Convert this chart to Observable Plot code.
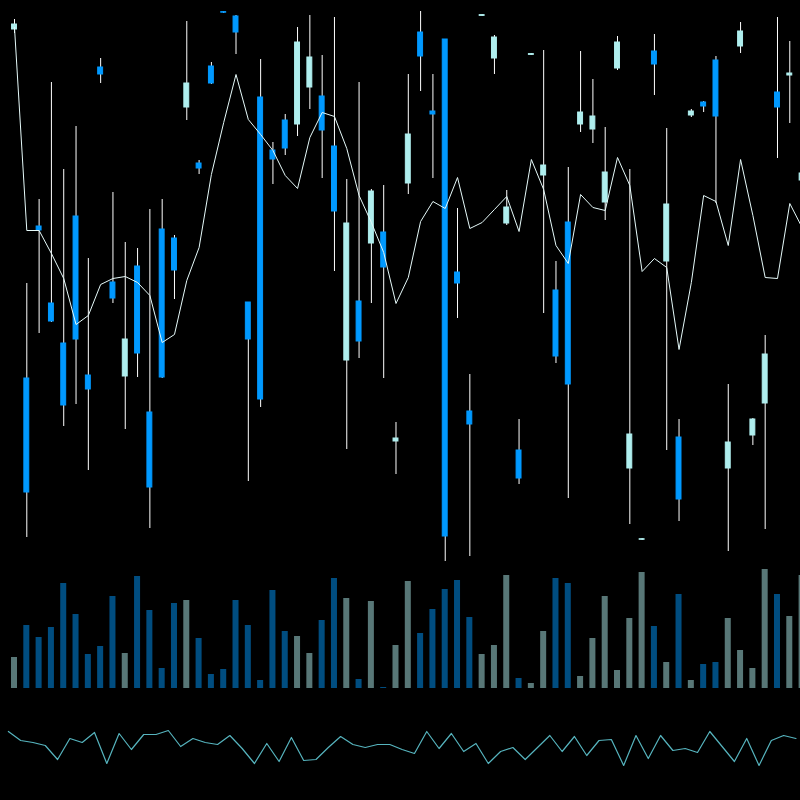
<!DOCTYPE html>
<html>
<head>
<meta charset="utf-8">
<script src="https://cdn.jsdelivr.net/npm/d3@7"></script>
<script src="https://cdn.jsdelivr.net/npm/@observablehq/plot@0.6"></script>
<style>
  html, body { margin: 0; padding: 0; background: #000; }
  #chart svg { display: block; background: #000; }
</style>
</head>
<body>
<div id="chart"></div>
<script>
// ---- data ----
const open = [
  571, 222, 374, 297, 257, 384, 225, 533, 318, 224,
  334, 188, 371, 362, 493, 437, 534, 588.4, 584, 298,
  503, 450, 480, 476, 513, 504, 454, 240, 299, 357,
  368, 159, 417, 568, 489, 561, 328, 189, 584.6, 542,
  377, 150, 545.6, 425, 310, 378, 476, 471, 398, 532,
  132, 60.7, 549, 339, 163, 485, 498, 540, 132, 554,
  165, 197, 508, 525, 420
];
const close = [
  576, 108, 370, 279, 195, 261, 211, 526, 302, 261,
  247, 113, 223, 330, 517, 432, 517, 587.8, 568, 261,
  201, 441, 452, 558, 543, 470, 389, 377, 259, 409,
  333, 162, 466, 544, 486, 64, 317, 176, 585.4, 563,
  393, 122, 546.4, 435, 244, 216, 488, 484, 428, 558,
  166, 61.3, 536, 396, 101, 489, 494, 484, 158, 569,
  181, 246, 493, 527, 427
];
const high = [
  581, 317, 401, 518, 431, 474, 342, 542, 408, 358,
  352, 391, 401, 365, 579, 440, 538, 589, 585, 298,
  541, 458, 486, 573, 585, 545, 583, 421, 518, 411,
  415, 178, 526, 589, 526, 561, 392, 226, 586, 565,
  410, 181, 547, 550, 339, 433, 549, 521, 473, 564,
  431, 62, 566, 472, 181, 491, 499, 544, 216, 578,
  182, 265, 583, 559, 435
];
const low = [
  567, 63, 267, 278, 174, 196, 130, 517, 297, 171,
  223, 72, 222, 301, 480, 426, 516, 587, 546, 119,
  193, 416, 445, 464, 491, 422, 329, 151, 242, 297,
  222, 126, 406, 509, 422, 39, 282, 44, 584, 526,
  375, 116, 545, 287, 237, 102, 468, 457, 380, 530,
  76, 60, 505, 150, 79, 483, 488, 397, 49, 547,
  155, 71, 442, 477, 415
];
const volume = [
  31, 63, 51, 61, 105, 74, 34, 42, 92, 35,
  112, 78, 20, 85, 88, 50, 14, 19, 88, 63,
  8, 98, 57, 52, 35, 68, 110, 90, 9, 87,
  1, 43, 107, 55, 79, 99, 108, 71, 34, 43,
  113, 10, 5, 57, 110, 105, 12, 50, 92, 18,
  70, 116, 62, 26, 94, 8, 24, 26, 70, 38,
  20, 119, 94, 72, 113
];
const ma = [
  573, 370, 370, 347, 322, 276, 285, 316, 322, 324,
  318, 305, 258, 266, 320, 353, 426, 478, 526, 481,
  466, 450, 425, 412, 463, 488, 484, 452, 405, 378,
  348, 297, 323, 379, 399, 392, 423, 372, 378, 391,
  404, 369, 441, 411, 355, 337, 406, 393, 390, 443,
  415, 329, 342, 333, 251, 318, 405, 399, 355, 441,
  385, 323, 322, 397, 373
];
const osc = [
  69, 60, 58, 55, 41, 62, 58, 68, 37, 67,
  51, 66, 66, 70, 54, 62, 58, 56, 65, 52,
  37, 57, 39, 63, 40, 41, 53, 64, 56, 53,
  56, 56, 51, 47, 69, 52, 67, 49, 57, 37,
  49, 53, 41, 53, 65, 49, 64, 45, 60, 61,
  35, 65, 42, 65, 50, 52, 48, 69, 54, 39,
  62, 35, 60, 65, 62
];

// ---- styles ----
const UP = "#afeeee";
const DOWN = "#0099ff";
const WICK = "#ffffff";
const MA_COLOR = "#e6fafa";
const OSC_COLOR = "#56b4be";

const rows = d3.range(open.length).map(i => ({
  i, open: open[i], close: close[i], high: high[i], low: low[i],
  vol: volume[i], ma: ma[i], osc: osc[i], up: close[i] >= open[i]
}));

const xDomain = [-1.1377, 63.87];
const W = 800;

const price = Plot.plot({
  width: W, height: 565, margin: 0,
  style: { background: "#000" },
  x: { domain: xDomain, axis: null },
  y: { domain: [35, 600], axis: null },
  marks: [
    Plot.ruleX(rows, { x: "i", y1: "low", y2: "high", stroke: WICK, strokeWidth: 1 }),
    Plot.rect(rows, {
      x1: d => d.i - 0.2, x2: d => d.i + 0.2,
      y1: d => Math.min(d.open, d.close), y2: d => Math.max(d.open, d.close),
      fill: d => d.up ? UP : DOWN, stroke: d => d.up ? UP : DOWN, strokeWidth: 1
    }),
    Plot.line(rows, { x: "i", y: "ma", stroke: MA_COLOR, strokeWidth: 1 })
  ]
});

const vol = Plot.plot({
  width: W, height: 135, marginTop: 0, marginLeft: 0, marginRight: 0, marginBottom: 12,
  style: { background: "#000" },
  x: { domain: xDomain, axis: null },
  y: { domain: [0, 123], axis: null },
  marks: [
    Plot.rect(rows, {
      x1: d => d.i - 0.244, x2: d => d.i + 0.244, y1: 0, y2: "vol",
      fill: d => d.up ? UP : DOWN, fillOpacity: 0.5
    })
  ]
});

const ind = Plot.plot({
  width: W, height: 100, margin: 0,
  style: { background: "#000" },
  x: { domain: xDomain, axis: null },
  y: { domain: [0, 100], axis: null },
  marks: [
    Plot.line(rows, { x: d => d.i - 0.5, y: "osc", stroke: OSC_COLOR, strokeWidth: 1.2 })
  ]
});

const root = document.getElementById("chart");
root.append(price, vol, ind);
</script>
</body>
</html>
